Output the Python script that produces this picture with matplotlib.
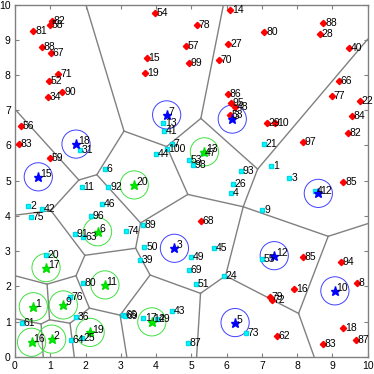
import matplotlib
matplotlib.use("Agg")
import matplotlib.pyplot as plt
from matplotlib.patches import Circle

# ---------------- data ----------------
red_x = [3.97, 6.10, 5.15, 7.07, 8.74, 8.65, 1.04, 0.99, 0.52, 0.76, 1.01, 1.23, 0.97, 1.34, 0.93,
         3.73, 3.69, 4.84, 4.94, 6.05, 5.78, 9.48, 9.19, 8.98, 9.78, 9.55, 9.43, 8.17, 6.03, 6.13,
         6.24, 6.10, 7.14, 7.37, 9.31, 5.26, 8.16, 9.24, 9.69, 7.92, 7.23, 7.28, 9.31, 9.67, 8.72,
         7.42, 0.16, 0.12, 0.99]
red_y = [9.75, 9.85, 9.42, 9.23, 9.49, 9.16, 9.55, 9.42, 9.25, 8.81, 8.64, 8.03, 7.83, 7.53, 7.37,
         8.49, 8.07, 8.83, 8.35, 8.87, 8.43, 8.76, 7.83, 7.41, 7.26, 6.85, 6.35, 6.11, 7.45, 7.22,
         7.10, 6.86, 6.65, 6.65, 4.97, 3.86, 2.82, 2.70, 2.10, 1.91, 1.70, 1.61, 0.81, 0.47, 0.35,
         0.60, 6.55, 6.04, 5.64]
red_lab = ["54", "14", "78", "80", "88", "28", "82", "58", "81", "88", "67", "71", "52", "90", "34",
           "15", "19", "57", "99", "27", "70", "40", "66", "77", "22", "84", "82", "97", "86", "95",
           "48", "53", "29", "10", "85", "68", "85", "94", "8", "16", "79", "72", "18", "87", "83",
           "62", "56", "83", "59"]

cyan_x = [4.21, 4.23, 4.44, 4.30, 4.00, 1.84, 2.55, 1.89, 2.65, 0.38, 0.76, 0.44, 2.48, 2.15, 1.70,
          1.94, 3.14, 3.62, 3.67, 3.54, 4.99, 4.94, 5.13, 5.65, 5.93, 4.94, 5.04, 5.33, 6.40, 6.17,
          6.12, 7.06, 7.26, 7.78, 7.01, 8.51, 7.01, 6.54, 4.90, 4.44, 3.64, 4.02, 3.07, 3.12, 1.92,
          0.88, 1.56, 1.73, 0.19, 1.58, 1.89]
cyan_y = [6.65, 6.42, 6.04, 5.90, 5.75, 5.87, 5.32, 4.83, 4.83, 4.28, 4.21, 3.96, 4.33, 4.00, 3.48,
          3.39, 3.58, 3.74, 3.11, 2.75, 2.82, 2.46, 2.06, 3.08, 2.29, 5.59, 5.45, 5.80, 5.27, 4.92,
          4.66, 6.04, 5.42, 5.07, 4.17, 4.70, 2.77, 0.68, 0.40, 1.31, 1.09, 1.07, 1.18, 1.17, 2.08,
          2.89, 1.70, 1.12, 0.97, 0.47, 0.52]
cyan_lab = ["13", "41", "7", "100", "44", "31", "6", "11", "92", "2", "42", "75", "46", "96", "91",
            "63", "74", "89", "50", "39", "49", "69", "51", "45", "24", "53", "98", "47", "93", "26",
            "4", "21", "1", "3", "9", "4", "55", "73", "87", "43", "17", "29", "66", "69", "80",
            "20", "76", "36", "61", "64", "25"]

blue_x = [4.30, 6.16, 1.73, 0.66, 4.52, 7.35, 9.07, 6.24, 8.60]
blue_y = [6.87, 6.75, 6.04, 5.11, 3.08, 2.87, 1.87, 0.97, 4.64]
blue_lab = ["7", "3", "18", "15", "3", "12", "10", "5", "12"]

green_x = [5.37, 3.38, 2.34, 0.88, 2.55, 0.52, 1.37, 3.88, 2.13, 0.47, 1.04]
green_y = [5.82, 4.88, 3.55, 2.53, 2.04, 1.42, 1.47, 0.99, 0.69, 0.41, 0.50]
green_lab = ["13", "20", "6", "17", "11", "1", "9", "14", "19", "16", "2"]

circle_r = 0.4

# Voronoi vertices
vor_x = [2.01, 3.09, 2.32, 4.30, 5.27, 5.91, 6.88, 10.0, 6.47, 4.90,
         8.88, 10.0, 8.04, 8.48, 5.97, 5.26, 5.15, 3.83, 3.42, 3.56,
         2.98, 3.17, 0.0, 1.81, 1.02, 0.0, 1.98, 1.73, 0.91, 0.0,
         0.98, 2.11, 1.56, 1.68, 0.74, 0.80, 0.0]
vor_y = [10.0, 6.41, 5.17, 5.97, 6.77, 10.0, 5.33, 9.02, 4.26, 4.61,
         3.42, 3.78, 1.23, 0.0, 2.30, 1.80, 0.0, 2.32, 3.08, 3.80,
         1.18, 0.0, 7.03, 5.02, 4.15, 4.02, 2.88, 2.30, 2.06, 2.30,
         1.05, 1.38, 0.95, 0.0, 0.93, 0.0, 1.08]
vor_edges = [(0, 1), (1, 2), (1, 3), (3, 4), (3, 9), (4, 5), (4, 6), (6, 7), (6, 8),
             (8, 9), (8, 10), (10, 11), (10, 12), (12, 13), (12, 14), (14, 8),
             (14, 15), (15, 16), (15, 17), (17, 18), (17, 20), (20, 21), (20, 31),
             (18, 19), (19, 9), (19, 2), (18, 26), (2, 23), (23, 22), (23, 24),
             (24, 25), (24, 26), (26, 27), (27, 28), (28, 29), (28, 30), (27, 31),
             (31, 32), (32, 33), (32, 30), (30, 34), (34, 36), (34, 35)]

ticks = list(range(0, 11))

# ---------------- plot ----------------
plt.rcParams['font.family'] = ['Liberation Sans', 'DejaVu Sans']
fig = plt.figure(figsize=(3.74, 3.74), dpi=100)
ax = fig.add_axes([15 / 374, 1 - 356.7 / 374, 352.7 / 374, 352 / 374])

edge_col = '#808080'
for a, b in vor_edges:
    ax.plot([vor_x[a], vor_x[b]], [vor_y[a], vor_y[b]], color=edge_col, lw=1.0, zorder=1)

for x, y in zip(blue_x, blue_y):
    ax.add_patch(Circle((x, y), circle_r, fill=False, ec='#4040ff', lw=0.7, zorder=2))
for x, y in zip(green_x, green_y):
    ax.add_patch(Circle((x, y), circle_r, fill=False, ec='#40e040', lw=0.7, zorder=2))

ax.plot(red_x, red_y, 'D', color='#ff0000', mec='#ff0000', ms=3.2, zorder=3, ls='none')
ax.plot(cyan_x, cyan_y, 's', color='#00ffff', mec='#00d8e8', ms=3.2, zorder=3, ls='none')
ax.plot(blue_x, blue_y, '*', color='#0000ff', mec='#0000ff', ms=6.5, zorder=4, ls='none')
ax.plot(green_x, green_y, '*', color='#00ee00', mec='#00dd00', ms=6.5, zorder=4, ls='none')

fs = 7.5
for xs, ys, labs, dy in [(red_x, red_y, red_lab, 0.0), (cyan_x, cyan_y, cyan_lab, 0.0),
                         (blue_x, blue_y, blue_lab, 0.08), (green_x, green_y, green_lab, 0.08)]:
    for x, y, t in zip(xs, ys, labs):
        ax.text(x + 0.05, y + dy, t, fontsize=fs, ha='left', va='center', color='black', zorder=5)

ax.set_xlim(0, 10)
ax.set_ylim(0, 10)
ax.set_xticks(ticks)
ax.set_yticks(ticks)
ax.tick_params(direction='in', top=True, right=True, length=3, width=0.8,
               color='#808080', labelsize=7.5, pad=3)
for s in ax.spines.values():
    s.set_color('#808080')
    s.set_linewidth(1.0)

fig.savefig('out.png', dpi=100)
